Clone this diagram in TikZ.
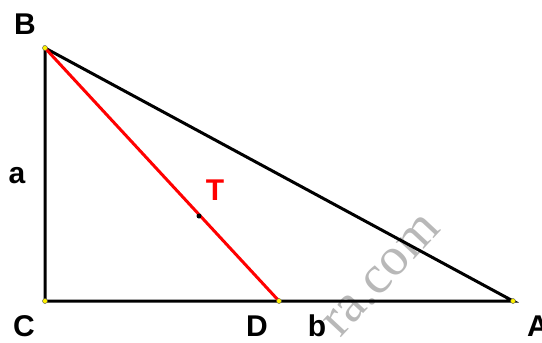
\documentclass[tikz,border=0pt]{standalone}
\usepackage{fontspec}
\setmainfont{Liberation Sans}
\newfontfamily\wmfont{Liberation Serif}
\begin{document}
\begin{tikzpicture}[x=1pt,y=-1pt,
  seg/.style={line width=3pt},
  redseg/.style={line width=3pt,draw={rgb,255:red,255;green,0;blue,0}},
  vtx/.style={circle,fill=yellow,draw=black!70,line width=0.4pt,inner sep=0pt,minimum size=5pt},
  tdot/.style={circle,fill=black,inner sep=0pt,minimum size=5pt},
  lbl/.style={font=\fontsize{30}{36}\selectfont\bfseries},
  rlbl/.style={lbl,text={rgb,255:red,255;green,0;blue,0}},
  wm/.style={font=\wmfont\fontsize{54}{60}\selectfont,text=black!28,rotate=47}]
\useasboundingbox (0,0) rectangle (542,343);
\node[wm] (wm) at (382,276) {ra.com};
\coordinate (B) at (45,48);
\coordinate (C) at (45,301);
\coordinate (A) at (513,301);
\coordinate (D) at (279,301);
\coordinate (T) at (199,216);
\draw[seg] (B) -- (C) -- (A) -- cycle;
\draw[redseg] (B) -- (D);
\node[vtx] (vB) at (B) {};
\node[vtx] (vC) at (C) {};
\node[vtx] (vA) at (A) {};
\node[vtx] (vD) at (D) {};
\node[tdot] (vT) at (T) {};
\node[lbl] (lB) at (25,24) {B};
\node[lbl] (lC) at (24,326) {C};
\node[lbl] (lA) at (538,326) {A};
\node[lbl] (lD) at (257,326) {D};
\node[lbl] (lb) at (317,326) {b};
\node[lbl] (la) at (17,176) {a};
\node[rlbl] (lT) at (215,190) {T};
\end{tikzpicture}
\end{document}
